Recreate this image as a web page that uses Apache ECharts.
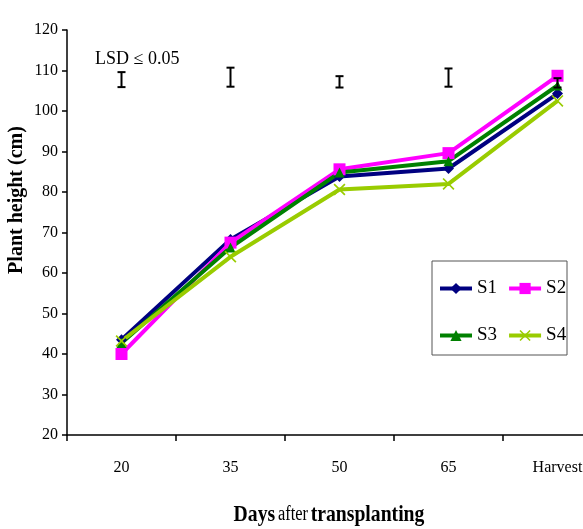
<!DOCTYPE html>
<html>
<head>
    <meta charset="UTF-8">
    <script src="https://cdn.jsdelivr.net/npm/echarts@6/dist/echarts.min.js"></script>
    <style>
        html, body { margin: 0; padding: 0; background: #ffffff; }
        #main { width: 583px; height: 529px; }
    </style>
</head>
<body>
<div id="main"></div>
<script type="text/javascript">
    var days = ['20', '35', '50', '65', 'Harvest'];
    var s1 = [43.5, 68.3, 83.8, 85.8, 104.3];
    var s2 = [40.0, 67.5, 85.6, 89.6, 108.7];
    var s3 = [42.7, 66.3, 84.8, 87.6, 106.3];
    var s4 = [43.2, 64.0, 80.6, 82.0, 102.5];
    // LSD bars (low / high ends)
    var lsdLow = [105.9, 106.0, 105.8, 106.0, 105.8];
    var lsdHigh = [109.6, 110.7, 108.6, 110.5, 108.1];

    var serif = '"Liberation Serif", "Times New Roman", serif';
    var crossPath = 'path://M0,1 L1,0 L5,4 L9,0 L10,1 L6,5 L10,9 L9,10 L5,6 L1,10 L0,9 L4,5 Z';

    var myChart = echarts.init(document.getElementById('main'));

    function lineSeries(name, data, color, symbol, size) {
        return {
            name: name,
            type: 'line',
            data: data,
            symbol: symbol,
            symbolSize: size,
            lineStyle: {color: color, width: 4},
            itemStyle: {color: color},
            animation: false
        };
    }

    var lsdData = days.map(function (d, i) {
        return [i, lsdLow[i], lsdHigh[i]];
    });

    var legendText = {color: '#000', fontFamily: serif, fontSize: 19};

    var option = {
        animation: false,
        grid: {left: 67, top: 30, bottom: 94, right: -29, outerBoundsMode: 'none', containLabel: false},
        xAxis: {
            type: 'category',
            data: days,
            boundaryGap: true,
            axisLine: {lineStyle: {color: '#000', width: 1.5}},
            axisTick: {show: true, length: 6, lineStyle: {color: '#000', width: 1.5}},
            axisLabel: {color: '#000', fontFamily: serif, fontSize: 16, margin: 25}
        },
        yAxis: {
            type: 'value',
            min: 20,
            max: 120,
            interval: 10,
            splitLine: {show: false},
            axisLine: {show: true, lineStyle: {color: '#000', width: 1.5}},
            axisTick: {show: true, length: 5, lineStyle: {color: '#000', width: 1.5}},
            axisLabel: {color: '#000', fontFamily: serif, fontSize: 16, margin: 9}
        },
        legend: [
            {
                data: ['S1', 'S2'],
                left: 438, top: 279, padding: 0,
                itemWidth: 32, itemHeight: 14, itemGap: 10,
                lineStyle: {width: 4},
                textStyle: legendText
            },
            {
                data: ['S3', 'S4'],
                left: 438, top: 326, padding: 0,
                itemWidth: 32, itemHeight: 14, itemGap: 10,
                lineStyle: {width: 4},
                textStyle: legendText
            }
        ],
        graphic: [
            {
                type: 'rect',
                shape: {x: 432, y: 261, width: 135, height: 94},
                style: {fill: 'none', stroke: '#555', lineWidth: 1}
            },
            {
                type: 'text',
                x: 95, y: 50,
                style: {text: 'LSD \u2264 0.05', fill: '#000', font: '18px ' + serif}
            },
            {
                type: 'text',
                x: 17, y: 200,
                rotation: Math.PI / 2,
                style: {
                    text: 'Plant height (cm)',
                    fill: '#000',
                    font: 'bold 20px ' + serif,
                    align: 'center',
                    verticalAlign: 'middle'
                }
            },
            {
                type: 'text',
                x: 329, y: 515,
                scaleX: 0.82,
                style: {
                    text: '{b|Days} {n|after} {b|transplanting}',
                    align: 'center',
                    verticalAlign: 'middle',
                    rich: {
                        b: {fontFamily: serif, fontSize: 24, fontWeight: 'bold', fill: '#000'},
                        n: {fontFamily: serif, fontSize: 20, fill: '#000'}
                    }
                }
            }
        ],
        series: [
            lineSeries('S1', s1, '#000080', 'diamond', 11),
            lineSeries('S2', s2, '#ff00ff', 'rect', 12),
            lineSeries('S3', s3, '#008000', 'triangle', 10),
            lineSeries('S4', s4, '#99cc00', crossPath, 12),
            {
                name: 'LSD',
                type: 'custom',
                data: lsdData,
                z: 10,
                renderItem: function (params, api) {
                    var lo = api.coord([api.value(0), api.value(1)]);
                    var hi = api.coord([api.value(0), api.value(2)]);
                    var w = 4;
                    var st = {stroke: '#000', lineWidth: 2};
                    return {
                        type: 'group',
                        children: [
                            {type: 'line', shape: {x1: lo[0], y1: lo[1], x2: hi[0], y2: hi[1]}, style: st},
                            {type: 'line', shape: {x1: lo[0] - w, y1: lo[1], x2: lo[0] + w, y2: lo[1]}, style: st},
                            {type: 'line', shape: {x1: hi[0] - w, y1: hi[1], x2: hi[0] + w, y2: hi[1]}, style: st}
                        ]
                    };
                }
            }
        ]
    };

    myChart.setOption(option);
</script>
</body>
</html>
